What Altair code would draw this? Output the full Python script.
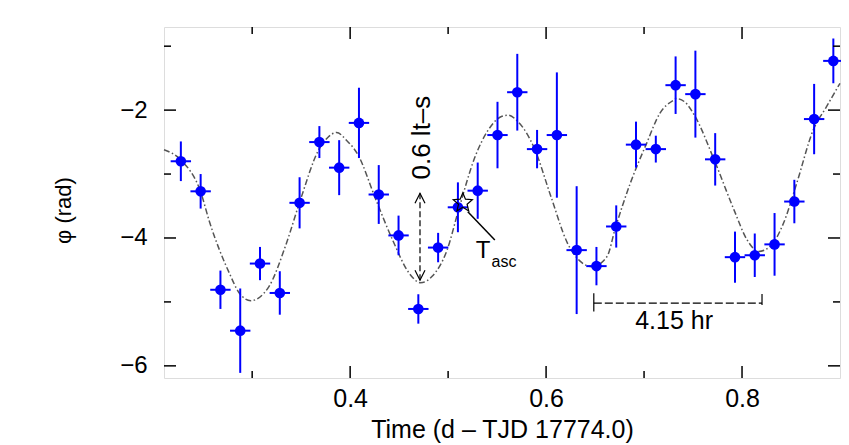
import altair as alt
import pandas as pd

# ---- data ----
t = [0.2272, 0.2474, 0.2676, 0.2878, 0.3080, 0.3282, 0.3484, 0.3686, 0.3888, 0.4090,
     0.4292, 0.4494, 0.4696, 0.4898, 0.5100, 0.5302, 0.5504, 0.5706, 0.5908, 0.6110,
     0.6312, 0.6514, 0.6716, 0.6918, 0.7120, 0.7322, 0.7524, 0.7726, 0.7928, 0.8130,
     0.8332, 0.8534, 0.8736, 0.8932]
phi = [-2.80, -3.27, -4.81, -5.45, -4.40, -4.86, -3.45, -2.50, -2.90, -2.20,
       -3.32, -3.96, -5.11, -4.15, -3.52, -3.26, -2.39, -1.72, -2.61, -2.39,
       -4.19, -4.44, -3.82, -2.54, -2.61, -1.61, -1.75, -2.77, -4.30, -4.27,
       -4.10, -3.43, -2.14, -1.23]
phi_err = [0.31, 0.27, 0.30, 0.66, 0.26, 0.34, 0.40, 0.25, 0.43, 0.55,
           0.46, 0.31, 0.23, 0.23, 0.39, 0.44, 0.52, 0.60, 0.30, 0.98,
           1.00, 0.30, 0.33, 0.36, 0.21, 0.45, 0.68, 0.41, 0.40, 0.34,
           0.49, 0.34, 0.55, 0.35]
t_err = 0.0104

curve_t = [0.2100, 0.2272, 0.2474, 0.2565, 0.2767, 0.2868, 0.2986, 0.3171, 0.3339, 0.3491,
           0.3676, 0.3777, 0.3861, 0.3962, 0.4080, 0.4265, 0.4433, 0.4602, 0.4719, 0.4837,
           0.4989, 0.5107, 0.5275, 0.5410, 0.5544, 0.5612, 0.5713, 0.5881, 0.6049, 0.6218,
           0.6353, 0.6471, 0.6622, 0.6706, 0.6858, 0.7026, 0.7161, 0.7295, 0.7330, 0.7414,
           0.7514, 0.7716, 0.7918, 0.8052, 0.8170, 0.8288, 0.8423, 0.8557, 0.8727, 0.8861,
           0.9000]
curve_phi = [-2.62, -2.78, -3.28, -3.75, -4.55, -4.86, -4.98, -4.76, -4.13, -3.41,
             -2.63, -2.42, -2.35, -2.47, -2.70, -3.41, -4.03, -4.55, -4.70, -4.60,
             -4.19, -3.56, -2.73, -2.31, -2.10, -2.08, -2.18, -2.60, -3.35, -4.08,
             -4.37, -4.45, -4.29, -3.85, -3.15, -2.52, -2.05, -1.85, -1.82, -1.87,
             -2.08, -2.78, -3.56, -4.03, -4.21, -4.13, -3.77, -3.15, -2.31, -1.95,
             -1.58]

x_major = [0.4, 0.6, 0.8]
x_minor = [0.3, 0.5, 0.7]
y_major = [-2, -4, -6]
y_minor = [-1, -3, -5]

X_DOMAIN = [0.21, 0.90]
Y_DOMAIN = [-6.19, -0.70]

# annotation anchors (data coordinates)
arrow_t = [0.4713]
arrow_top = [-3.30]
arrow_bottom = [-4.66]
lts_label = ["0.6 lt–s"]
lts_t = [0.482]
lts_phi = [-2.43]

star_t = [0.515]
star_phi = [-3.45]
leader_t = [0.5201]
leader_t2 = [0.5477]
leader_phi = [-3.59]
leader_phi2 = [-4.03]
T_t = [0.5282]
T_phi = [-4.317]
asc_t = [0.5443]
asc_phi = [-4.46]

period_t1 = [0.6487]
period_t2 = [0.8204]
period_phi = [-5.02]
cap_t = [0.6487, 0.8204]
cap_top = [-4.865, -4.875]
cap_bottom = [-5.15, -5.05]
period_label = ["4.15 hr"]
period_label_t = [0.7307]
period_label_phi = [-5.42]

# ---- layout / style ----
W, H = 676, 351
FONT = "Liberation Sans"
BLUE = "#0000ff"
MAJOR, MINOR = 12, 7

xs = alt.Scale(domain=X_DOMAIN, nice=False, zero=False)
ys = alt.Scale(domain=Y_DOMAIN, nice=False, zero=False)

pts = pd.DataFrame({"t": t, "phi": phi, "err": phi_err})
pts["lo"] = pts["phi"] - pts["err"]
pts["hi"] = pts["phi"] + pts["err"]
pts["tl"] = pts["t"] - t_err
pts["tr"] = pts["t"] + t_err

curve = pd.DataFrame({"t": curve_t, "phi": curve_phi})

XA = alt.Axis(values=x_major, format=".1f", ticks=False, tickSize=0, domain=False,
              grid=False, labelFontSize=25, labelPadding=8, labelColor="black",
              title="Time (d – TJD 17774.0)", titleFontSize=25, titlePadding=6,
              titleFontWeight="normal", titleColor="black", labelFont=FONT, titleFont=FONT)
YA = alt.Axis(values=y_major, format="d", ticks=False, tickSize=0, domain=False,
              grid=False, labelFontSize=24, labelPadding=17, labelColor="black",
              title="φ (rad)", titleFontSize=22, titlePadding=44, titleY=183,
              titleFontWeight="normal", titleColor="black", labelFont=FONT, titleFont=FONT)


def X(field):
    return alt.X(field, scale=xs, axis=XA)


def Y(field):
    return alt.Y(field, scale=ys, axis=YA)


curve_layer = alt.Chart(curve).mark_line(
    interpolate="monotone", color="#555555", strokeWidth=1.5, strokeDash=[6, 2.5, 1.5, 2.5]
).encode(x=X("t:Q"), y=Y("phi:Q"))

vbars = alt.Chart(pts).mark_rule(color=BLUE, strokeWidth=2).encode(
    x=X("t:Q"), y=Y("lo:Q"), y2="hi:Q")
hbars = alt.Chart(pts).mark_rule(color=BLUE, strokeWidth=2).encode(
    x=X("tl:Q"), x2="tr:Q", y=Y("phi:Q"))
dots = alt.Chart(pts).mark_circle(size=113, color=BLUE, opacity=1).encode(
    x=X("t:Q"), y=Y("phi:Q"))


def xticks(vals, length):
    d = alt.Chart(pd.DataFrame({"v": vals})).mark_rule(color="black", strokeWidth=1.5)
    bottom = d.encode(x=X("v:Q"), y=alt.value(H), y2=alt.value(H - length))
    top = d.encode(x=X("v:Q"), y=alt.value(0), y2=alt.value(length))
    return [bottom, top]


def yticks(vals, length):
    d = alt.Chart(pd.DataFrame({"v": vals})).mark_rule(color="black", strokeWidth=1.5)
    left = d.encode(y=Y("v:Q"), x=alt.value(0), x2=alt.value(length))
    right = d.encode(y=Y("v:Q"), x=alt.value(W), x2=alt.value(W - length))
    return [left, right]


ticks = xticks(x_major, MAJOR) + xticks(x_minor, MINOR) + yticks(y_major, MAJOR) + yticks(y_minor, MINOR)

# amplitude arrow
arrow_df = pd.DataFrame({"t": arrow_t, "top": arrow_top, "bottom": arrow_bottom})
arrow_line = alt.Chart(arrow_df).mark_rule(color="black", strokeWidth=1.2, strokeDash=[6, 3]).encode(
    x=X("t:Q"), y=Y("top:Q"), y2="bottom:Q")
arrow_up = alt.Chart(arrow_df).mark_point(
    shape="M-0.5,1L0,0L0.5,1", filled=False, size=400, color="black", strokeWidth=1.2, opacity=1
).encode(x=X("t:Q"), y=Y("top:Q"))
arrow_down = alt.Chart(arrow_df).mark_point(
    shape="M-0.5,-1L0,0L0.5,-1", filled=False, size=400, color="black", strokeWidth=1.2, opacity=1
).encode(x=X("t:Q"), y=Y("bottom:Q"))
lts_text = alt.Chart(pd.DataFrame({"t": lts_t, "phi": lts_phi, "s": lts_label})).mark_text(
    angle=270, align="center", baseline="alphabetic", fontSize=26, font=FONT, color="black"
).encode(x=X("t:Q"), y=Y("phi:Q"), text="s:N")

# T_asc star and leader
STAR = ("M0,-1L0.265,-0.364L0.951,-0.309L0.428,0.139L0.588,0.809L0,0.45"
        "L-0.588,0.809L-0.428,0.139L-0.951,-0.309L-0.265,-0.364Z")
star = alt.Chart(pd.DataFrame({"t": star_t, "phi": star_phi})).mark_point(
    shape=STAR, filled=False, size=400, color="black", strokeWidth=1.2, opacity=1
).encode(x=X("t:Q"), y=Y("phi:Q"))
leader = alt.Chart(pd.DataFrame({"t": leader_t, "t2": leader_t2, "p": leader_phi, "p2": leader_phi2})).mark_rule(
    color="black", strokeWidth=1.5
).encode(x=X("t:Q"), x2="t2:Q", y=Y("p:Q"), y2="p2:Q")
T_text = alt.Chart(pd.DataFrame({"t": T_t, "phi": T_phi, "s": ["T"]})).mark_text(
    align="left", baseline="alphabetic", fontSize=24, font=FONT, color="black"
).encode(x=X("t:Q"), y=Y("phi:Q"), text="s:N")
asc_text = alt.Chart(pd.DataFrame({"t": asc_t, "phi": asc_phi, "s": ["asc"]})).mark_text(
    align="left", baseline="alphabetic", fontSize=16, font=FONT, color="black"
).encode(x=X("t:Q"), y=Y("phi:Q"), text="s:N")

# period bracket
period_line = alt.Chart(pd.DataFrame({"t": period_t1, "t2": period_t2, "p": period_phi})).mark_rule(
    color="black", strokeWidth=1.2, strokeDash=[8, 3]
).encode(x=X("t:Q"), x2="t2:Q", y=Y("p:Q"))
caps = alt.Chart(pd.DataFrame({"t": cap_t, "a": cap_top, "b": cap_bottom})).mark_rule(
    color="black", strokeWidth=1.2
).encode(x=X("t:Q"), y=Y("a:Q"), y2="b:Q")
period_text = alt.Chart(pd.DataFrame({"t": period_label_t, "phi": period_label_phi, "s": period_label})).mark_text(
    align="center", baseline="alphabetic", fontSize=25, font=FONT, color="black"
).encode(x=X("t:Q"), y=Y("phi:Q"), text="s:N")

chart = alt.layer(
    curve_layer, vbars, hbars, dots, *ticks,
    arrow_line, arrow_up, arrow_down, lts_text,
    leader, star, T_text, asc_text,
    period_line, caps, period_text,
).properties(
    width=W, height=H,
    padding={"left": 156, "top": 19, "right": 1, "bottom": 67},
    autosize=alt.AutoSizeParams(type="none"),
).configure_view(
    stroke="black", strokeWidth=1.5
).configure(font=FONT)

chart.save("out.html", embed_options={"renderer": "svg", "actions": False})
